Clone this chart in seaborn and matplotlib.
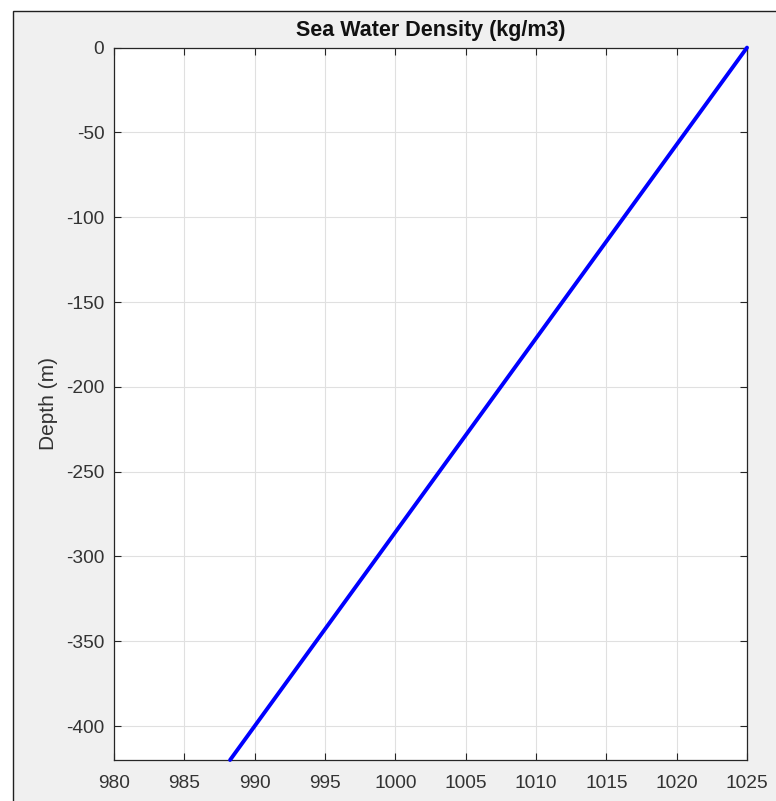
import matplotlib
matplotlib.use("Agg")
import matplotlib.pyplot as plt
from matplotlib.patches import Rectangle
import seaborn as sns
import pandas as pd

# Density profile with depth
depth_m = [0, -100, -200, -300, -400, -420]
density_kg_m3 = [1025.0, 1016.25, 1007.5, 998.75, 990.0, 988.25]

x_ticks = [980, 985, 990, 995, 1000, 1005, 1010, 1015, 1020, 1025]
y_ticks = [0, -50, -100, -150, -200, -250, -300, -350, -400]

sns.set_theme(style="white")
plt.rcParams["font.family"] = ["Liberation Sans", "DejaVu Sans"]

W, H, DPI = 776, 801, 100
fig = plt.figure(figsize=(W / DPI, H / DPI), dpi=DPI, facecolor="white")

# Window panel behind the axes
fig.patches.append(Rectangle((13 / W, -0.05), 1.1, (H - 11) / H + 0.05,
                             transform=fig.transFigure, facecolor="#f0f0f0",
                             edgecolor="#202020", linewidth=1.0, zorder=-10))

ax = fig.add_axes([114 / W, 41 / H, 633 / W, 712.4 / H])
ax.set_facecolor("white")

df = pd.DataFrame({"density": density_kg_m3, "depth": depth_m})
sns.lineplot(data=df, x="density", y="depth", ax=ax, color=(0, 0, 1),
             linewidth=2.8, sort=False, clip_on=False, zorder=5,
             solid_capstyle="round")

ax.set_xlim(980, 1025)
ax.set_ylim(-420, 0)
ax.set_xticks(x_ticks)
ax.set_yticks(y_ticks)
ax.set_xticklabels([str(v) for v in x_ticks])
ax.set_yticklabels([str(v) for v in y_ticks])

ax.grid(True, color="#e0e0e0", linewidth=0.8)
ax.set_axisbelow(True)

for s in ax.spines.values():
    s.set_visible(True)
    s.set_color("#262626")
    s.set_linewidth(0.9)

ax.tick_params(axis="both", which="major", direction="in", length=5, width=0.8,
               color="#262626", labelcolor="#333333", labelsize=13.8,
               top=True, right=True, bottom=True, left=True)
ax.tick_params(axis="x", pad=11)
ax.tick_params(axis="y", pad=7)

ax.set_xlabel("")
ax.set_ylabel("Depth (m)", fontsize=15, color="#333333", labelpad=6)
ax.set_title("Sea Water Density (kg/m3)", fontsize=15.5, fontweight="bold",
             color="#111111", pad=8)

fig.savefig("out.png", dpi=DPI, facecolor=fig.get_facecolor())
